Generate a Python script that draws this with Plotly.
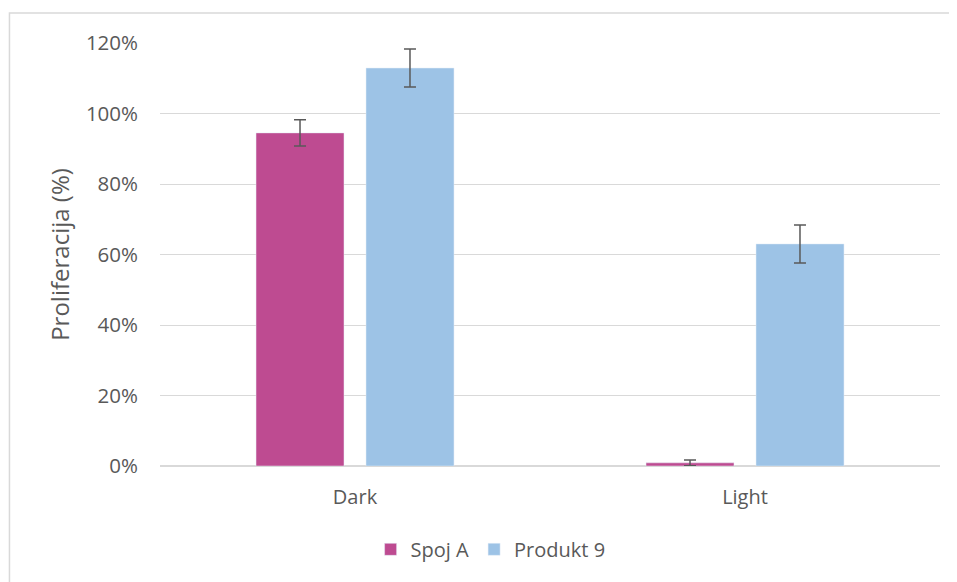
import plotly.graph_objects as go

categories = ["Dark", "Light"]
spoj_a = [0.945, 0.009]
spoj_a_err = [0.037, 0.008]
produkt_9 = [1.129, 0.630]
produkt_9_err = [0.054, 0.054]

font = "Open Sans, Noto Sans, sans-serif"
grey = "#595959"

fig = go.Figure()
fig.add_trace(go.Bar(
    x=categories, y=spoj_a, name="Spoj A", marker_color="#BE4B91",
    error_y=dict(type="data", array=spoj_a_err, color=grey, thickness=1.5, width=6),
))
fig.add_trace(go.Bar(
    x=categories, y=produkt_9, name="Produkt 9", marker_color="#9DC3E6",
    error_y=dict(type="data", array=produkt_9_err, color=grey, thickness=1.5, width=6),
))

# page body has an 8px margin, so shift the figure back by that
fig.update_layout(
    width=957, height=582,
    margin=dict(l=152, r=25, t=35, b=124),
    paper_bgcolor="white", plot_bgcolor="white",
    font=dict(family=font, size=20, color=grey),
    barmode="group", bargap=0.436, bargroupgap=0.2,
    showlegend=True,
    legend=dict(orientation="h", x=0.27, xanchor="left", y=-0.197, yanchor="middle",
                font=dict(size=20, color=grey), itemwidth=30),
    shapes=[dict(type="rect", xref="paper", yref="paper",
                 x0=-0.193, x1=1.05, y0=-0.3, y1=1.071,
                 line=dict(color="#d9d9d9", width=1.5), layer="below")],
)
fig.update_xaxes(showgrid=False, showline=False, ticks="", tickfont=dict(size=20),
                 ticklabelstandoff=17)
fig.update_yaxes(
    range=[0, 1.2], dtick=0.2, tickformat=".0%", showgrid=True, gridcolor="#d9d9d9",
    zeroline=True, zerolinecolor="#d9d9d9", zerolinewidth=1.5, showline=False,
    ticks="", ticklen=0, tickfont=dict(size=20.5), ticklabelstandoff=21,
    title=dict(text="Proliferacija (%)", font=dict(size=24), standoff=9),
)

fig.write_html("out.html")
